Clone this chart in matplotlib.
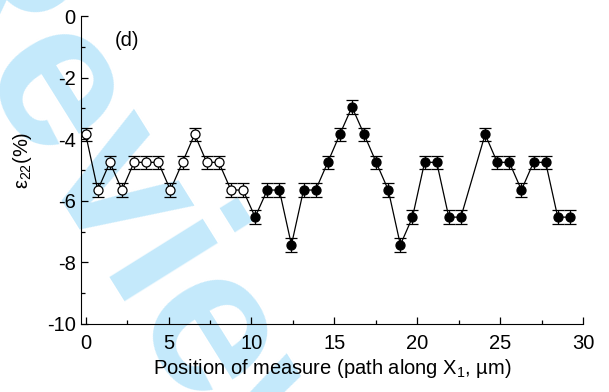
import matplotlib
matplotlib.use("Agg")
import matplotlib.pyplot as plt
from matplotlib.ticker import MultipleLocator

plt.rcParams['font.family'] = ['Liberation Sans', 'DejaVu Sans']
plt.rcParams['mathtext.fontset'] = 'custom'
plt.rcParams['mathtext.rm'] = 'Liberation Sans'
plt.rcParams['axes.unicode_minus'] = False

# position along the path (um) and strain eps22 (%)
pos_open = [0.0, 0.73, 1.46, 2.19, 2.92, 3.65, 4.38, 5.11, 5.84, 6.57,
            7.30, 8.03, 8.76, 9.49]
eps_open = [-3.84, -5.65, -4.75, -5.65, -4.75, -4.75, -4.75, -5.65, -4.75, -3.84,
            -4.75, -4.75, -5.65, -5.65]

pos_fill = [10.22, 10.95, 11.68, 12.41, 13.14, 13.87, 14.60, 15.33, 16.06, 16.79,
            17.52, 18.25, 18.98, 19.71, 20.44, 21.17, 21.90, 22.63,
            24.09, 24.82, 25.55, 26.28, 27.01, 27.74, 28.47, 29.20]
eps_fill = [-6.53, -5.65, -5.65, -7.43, -5.65, -5.65, -4.75, -3.84, -2.95, -3.84,
            -4.75, -5.65, -7.43, -6.53, -4.75, -4.75, -6.53, -6.53,
            -3.84, -4.75, -4.75, -5.65, -4.75, -4.75, -6.53, -6.53]
err = 0.22

fig = plt.figure(figsize=(6.09, 3.92), dpi=100)
ax = fig.add_axes([0.1325, 0.1735, 0.825, 0.7855])
ax.patch.set_alpha(0)

# watermark
fig.text(0.21, 0.42, "Review", fontsize=150, fontweight='bold', color='#c4e9fb',
         rotation=-58, ha='center', va='center', zorder=-5)

ax.plot(pos_open + pos_fill, eps_open + eps_fill, color='black', lw=0.9, zorder=2)
ax.errorbar(pos_open, eps_open, yerr=err, fmt='o', mfc='white', mec='black',
            ms=6.5, mew=0.9, ecolor='black', elinewidth=0.9, capsize=4.5,
            capthick=0.9, zorder=3)
ax.errorbar(pos_fill, eps_fill, yerr=err, fmt='o', mfc='black', mec='black',
            ms=6.5, mew=0.9, ecolor='black', elinewidth=0.9, capsize=4.5,
            capthick=0.9, zorder=3)

ax.set_xlim(-0.3, 30)
ax.set_ylim(-10, 0)
ax.xaxis.set_major_locator(MultipleLocator(5))
ax.xaxis.set_minor_locator(MultipleLocator(2.5))
ax.yaxis.set_major_locator(MultipleLocator(2))
ax.yaxis.set_minor_locator(MultipleLocator(1))
ax.spines['top'].set_visible(False)
ax.spines['right'].set_visible(False)
ax.tick_params(which='both', direction='in', labelsize=14.5, width=0.9)
ax.tick_params(which='major', length=5)
ax.tick_params(axis='x', which='major', pad=7)
ax.tick_params(which='minor', length=3)

ax.set_xlabel(r"Position of measure (path along X$_1$, µm)", fontsize=14.5, labelpad=3)
ax.set_ylabel(r"ε$_{22}$(%)", fontsize=14.5, labelpad=2)
ax.yaxis.set_label_coords(-0.093, 0.53)
ax.text(2.5, -0.8, "(d)", fontsize=14.5, ha='center', va='center')

fig.savefig("out.png", dpi=100)
